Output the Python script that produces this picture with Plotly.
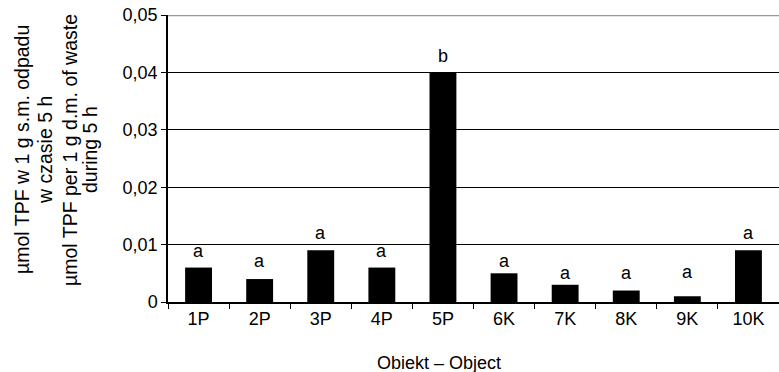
import plotly.graph_objects as go

categories = ["1P", "2P", "3P", "4P", "5P", "6K", "7K", "8K", "9K", "10K"]
values = [0.006, 0.004, 0.009, 0.006, 0.040, 0.005, 0.003, 0.002, 0.001, 0.009]
letters = ["a", "a", "a", "a", "b", "a", "a", "a", "a", "a"]
y_tickvals = [0, 0.01, 0.02, 0.03, 0.04, 0.05]
y_ticktext = ["0", "0,01", "0,02", "0,03", "0,04", "0,05"]
y_title_lines = [
    "µmol TPF w 1 g s.m. odpadu",
    "w czasie 5 h",
    "µmol TPF per 1 g d.m. of waste",
    "during 5 h",
]
x_title = "Obiekt – Object"

FONT = "Liberation Sans, Arial, sans-serif"
W, H = 779, 372
L, R, T, B = 168, 0, 15, 70
pw = W - L - R
ph = H - T - B

fig = go.Figure()
fig.add_trace(go.Bar(
    x=categories, y=values, marker=dict(color="black", line=dict(width=0)),
    width=0.44, showlegend=False, hoverinfo="x+y",
))

label_shift = [17, 18, 17, 17, 16, 12, 12, 18, 24, 17]
for c, v, t, s in zip(categories, values, letters, label_shift):
    fig.add_annotation(x=c, y=v, text=t, showarrow=False, yanchor="middle",
                       yshift=s, font=dict(family=FONT, size=18, color="black"))

line_x = [22, 45, 70, 90]
for txt, lx in zip(y_title_lines, line_x):
    fig.add_annotation(text=txt, xref="paper", yref="paper",
                       x=0, y=0.5, xshift=lx - L, yshift=(302 - 150) - ph / 2,
                       xanchor="center", yanchor="middle", textangle=-90,
                       showarrow=False,
                       font=dict(family=FONT, size=19.5, color="black"))

fig.add_annotation(text=x_title, xref="paper", yref="paper",
                   x=0, y=0, xshift=439 - L, yshift=302 - 363,
                   xanchor="center", yanchor="middle", showarrow=False,
                   font=dict(family=FONT, size=18, color="black"))

fig.add_shape(type="line", xref="paper", yref="y", x0=0, x1=1, y0=0.05, y1=0.05,
              line=dict(color="#999999", width=2.5), layer="above")

fig.update_layout(
    width=W, height=H,
    margin=dict(l=L, r=R, t=T, b=B),
    paper_bgcolor="white", plot_bgcolor="white",
    bargap=0.56,
    font=dict(family=FONT, size=18, color="black"),
    xaxis=dict(
        type="category", showgrid=False, showline=True, linecolor="black",
        linewidth=1.5, ticks="outside", tickson="boundaries", ticklen=5,
        tickcolor="black", tickfont=dict(family=FONT, size=18, color="black"),
        range=[-0.5, 9.5],
    ),
    yaxis=dict(
        range=[0, 0.05], tickvals=y_tickvals[:-1] + [0.0499999], ticktext=y_ticktext,
        showgrid=True, gridcolor="black", gridwidth=1, zeroline=False,
        showline=True, linecolor="black", linewidth=1.5, ticks="outside",
        ticklen=5, tickcolor="black",
        tickfont=dict(family=FONT, size=18, color="black"),
    ),
)

fig.write_html("out.html")
